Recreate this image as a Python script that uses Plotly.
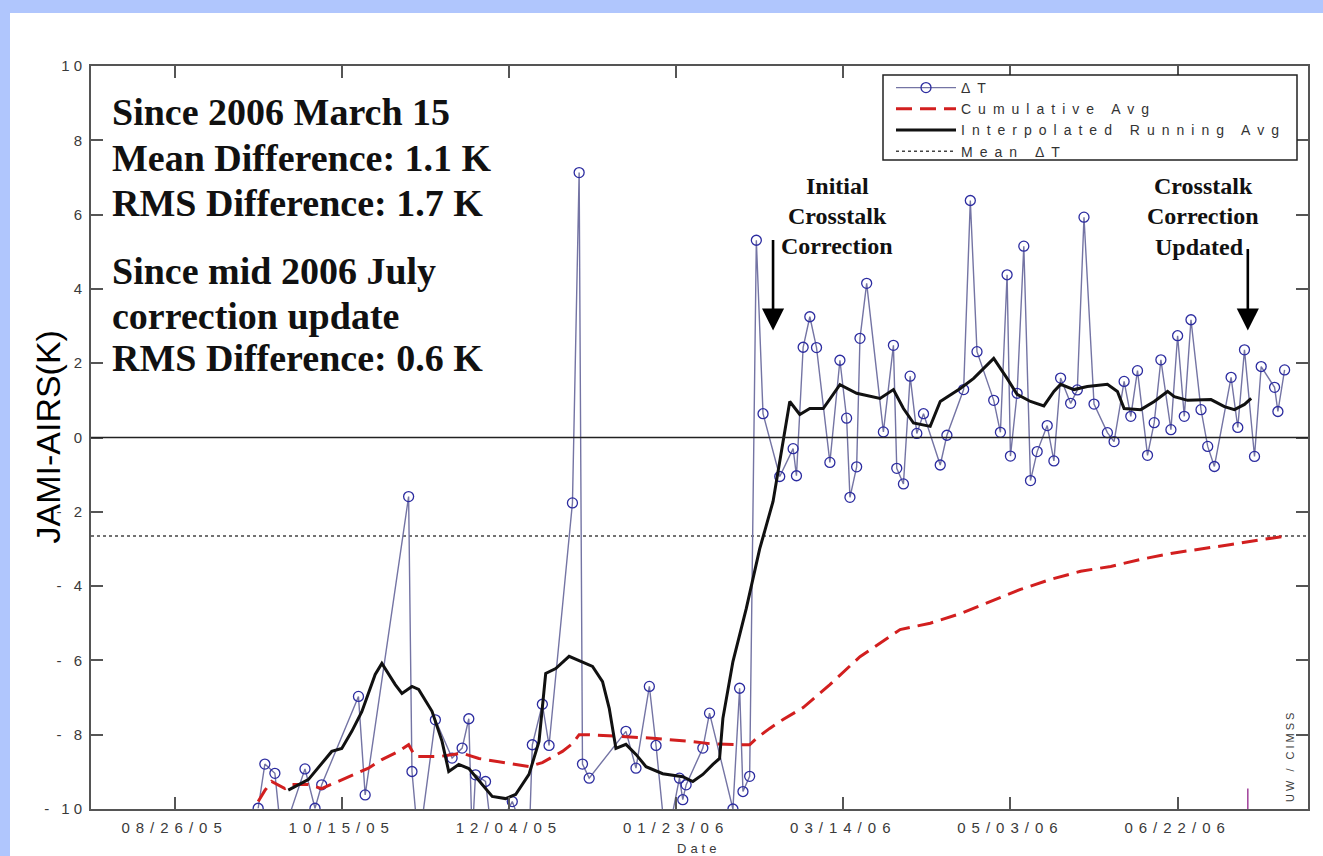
import plotly.graph_objects as go

# ---------------------------------------------------------------------------
# JAMI minus AIRS brightness-temperature differences (K)
# ---------------------------------------------------------------------------
DT_DATES = [
    "2005-09-20", "2005-09-22", "2005-09-25", "2005-09-27", "2005-10-04", "2005-10-07",
    "2005-10-09", "2005-10-20", "2005-10-22", "2005-11-04", "2005-11-05", "2005-11-07",
    "2005-11-12", "2005-11-17", "2005-11-20", "2005-11-22", "2005-11-23", "2005-11-24",
    "2005-11-27", "2005-11-29", "2005-12-05", "2005-12-10", "2005-12-11", "2005-12-14",
    "2005-12-16", "2005-12-23", "2005-12-25", "2005-12-26", "2005-12-28", "2006-01-08",
    "2006-01-11", "2006-01-15", "2006-01-17", "2006-01-20", "2006-01-24", "2006-01-25",
    "2006-01-26", "2006-01-31", "2006-02-02", "2006-02-09", "2006-02-11", "2006-02-12",
    "2006-02-14", "2006-02-16", "2006-02-18", "2006-02-23", "2006-02-27", "2006-02-28",
    "2006-03-02", "2006-03-04", "2006-03-06", "2006-03-10", "2006-03-13", "2006-03-15",
    "2006-03-16", "2006-03-18", "2006-03-19", "2006-03-21", "2006-03-26", "2006-03-29",
    "2006-03-30", "2006-04-01", "2006-04-03", "2006-04-05", "2006-04-07", "2006-04-12",
    "2006-04-14", "2006-04-19", "2006-04-21", "2006-04-23", "2006-04-28", "2006-04-30",
    "2006-05-02", "2006-05-03", "2006-05-05", "2006-05-07", "2006-05-09", "2006-05-11",
    "2006-05-14", "2006-05-16", "2006-05-18", "2006-05-21", "2006-05-23", "2006-05-25",
    "2006-05-28", "2006-06-01", "2006-06-03", "2006-06-06", "2006-06-08", "2006-06-10",
    "2006-06-13", "2006-06-15", "2006-06-17", "2006-06-20", "2006-06-22", "2006-06-24",
    "2006-06-26", "2006-06-29", "2006-07-01", "2006-07-03", "2006-07-08", "2006-07-10",
    "2006-07-12", "2006-07-15", "2006-07-17", "2006-07-21", "2006-07-22", "2006-07-24",
]
DT_VALUES = [
    -9.98, -8.79, -9.04, -10.8, -8.92, -9.98,
    -9.35, -6.97, -9.62, -1.59, -8.99, -11.0,
    -7.60, -8.63, -8.36, -7.57, -10.8, -9.08,
    -9.26, -10.8, -9.80, -11.0, -8.27, -7.18,
    -8.29, -1.76, 7.13, -8.79, -9.17, -7.91,
    -8.90, -6.70, -8.29, -11.0, -9.17, -9.75,
    -9.35, -8.36, -7.42, -10.0, -6.75, -9.53,
    -9.12, 5.31, 0.64, -1.05, -0.30, -1.03,
    2.43, 3.25, 2.42, -0.67, 2.08, 0.52,
    -1.61, -0.79, 2.67, 4.15, 0.15, 2.48,
    -0.83, -1.25, 1.65, 0.11, 0.64, -0.74,
    0.06, 1.29, 6.38, 2.31, 1.00, 0.14,
    4.38, -0.50, 1.19, 5.15, -1.16, -0.38,
    0.32, -0.63, 1.60, 0.92, 1.28, 5.93,
    0.90, 0.13, -0.11, 1.51, 0.57, 1.80,
    -0.48, 0.40, 2.09, 0.21, 2.74, 0.57,
    3.17, 0.75, -0.24, -0.78, 1.62, 0.27,
    2.36, -0.51, 1.91, 1.35, 0.70, 1.82,
]

# Interpolated running average (K)
RUN_DATES = [
    "2005-09-29", "2005-10-05", "2005-10-12", "2005-10-15", "2005-10-18", "2005-10-21",
    "2005-10-25", "2005-10-27", "2005-10-31", "2005-11-02", "2005-11-05", "2005-11-07",
    "2005-11-11", "2005-11-14", "2005-11-16", "2005-11-19", "2005-11-22", "2005-11-26",
    "2005-11-29", "2005-12-03", "2005-12-06", "2005-12-10", "2005-12-13", "2005-12-15",
    "2005-12-18", "2005-12-22", "2005-12-27", "2005-12-29", "2006-01-01", "2006-01-03",
    "2006-01-05", "2006-01-08", "2006-01-11", "2006-01-14", "2006-01-19", "2006-01-25",
    "2006-01-28", "2006-01-31", "2006-02-03", "2006-02-05", "2006-02-06", "2006-02-09",
    "2006-02-13", "2006-02-17", "2006-02-21", "2006-02-23", "2006-02-26", "2006-03-01",
    "2006-03-04", "2006-03-08", "2006-03-13", "2006-03-18", "2006-03-25", "2006-03-29",
    "2006-04-01", "2006-04-04", "2006-04-09", "2006-04-12", "2006-04-18", "2006-04-22",
    "2006-04-28", "2006-05-02", "2006-05-05", "2006-05-09", "2006-05-13", "2006-05-16",
    "2006-05-18", "2006-05-22", "2006-05-26", "2006-06-01", "2006-06-04", "2006-06-06",
    "2006-06-11", "2006-06-15", "2006-06-19", "2006-06-21", "2006-06-25", "2006-07-02",
    "2006-07-06", "2006-07-09", "2006-07-12", "2006-07-14",
]
RUN_VALUES = [
    -9.49, -9.21, -8.45, -8.37, -7.91, -7.38,
    -6.38, -6.08, -6.65, -6.89, -6.70, -6.78,
    -7.37, -8.18, -8.99, -8.80, -8.91, -9.34,
    -9.66, -9.72, -9.61, -9.07, -8.18, -6.35,
    -6.22, -5.89, -6.08, -6.16, -6.57, -7.29,
    -8.37, -8.26, -8.53, -8.86, -9.05, -9.13,
    -9.26, -9.07, -8.80, -8.64, -7.56, -6.03,
    -4.60, -3.00, -1.72, -0.65, 0.97, 0.62,
    0.78, 0.78, 1.42, 1.19, 1.05, 1.29,
    0.78, 0.39, 0.30, 0.97, 1.32, 1.59,
    2.13, 1.59, 1.16, 0.97, 0.85, 1.24,
    1.43, 1.29, 1.37, 1.43, 1.24, 0.78,
    0.75, 0.97, 1.24, 1.10, 1.00, 1.02,
    0.83, 0.75, 0.89, 1.05,
]

# Cumulative average (K)
CUM_DATES = [
    "2005-09-20", "2005-09-22", "2005-09-24", "2005-09-28", "2005-09-30", "2005-10-05",
    "2005-10-09", "2005-10-14", "2005-10-19", "2005-10-23", "2005-10-27", "2005-11-01",
    "2005-11-04", "2005-11-06", "2005-11-13", "2005-11-20", "2005-11-25", "2005-12-04",
    "2005-12-10", "2005-12-14", "2005-12-20", "2005-12-23", "2005-12-25", "2005-12-28",
    "2006-01-07", "2006-01-17", "2006-01-27", "2006-02-02", "2006-02-11", "2006-02-14",
    "2006-02-16", "2006-02-20", "2006-02-24", "2006-03-02", "2006-03-10", "2006-03-19",
    "2006-03-31", "2006-04-09", "2006-04-18", "2006-04-27", "2006-05-06", "2006-05-15",
    "2006-05-24", "2006-06-02", "2006-06-11", "2006-06-20", "2006-06-29", "2006-07-08",
    "2006-07-17", "2006-07-24",
]
CUM_VALUES = [
    -9.80, -9.50, -9.26, -9.45, -9.34, -9.34,
    -9.45, -9.26, -9.07, -8.90, -8.67, -8.45,
    -8.27, -8.59, -8.59, -8.50, -8.64, -8.77,
    -8.86, -8.75, -8.45, -8.24, -8.00, -8.00,
    -8.05, -8.10, -8.18, -8.24, -8.27, -8.27,
    -8.10, -7.83, -7.59, -7.27, -6.65, -5.90,
    -5.17, -5.00, -4.74, -4.41, -4.09, -3.82,
    -3.60, -3.47, -3.28, -3.12, -3.01, -2.88,
    -2.75, -2.66,
]

MEAN_DT = -2.65

X_RANGE = ["2005-08-01", "2006-07-31"]
X_TICK_DATES = ["2005-08-26", "2005-10-15", "2005-12-04", "2006-01-23",
                "2006-03-14", "2006-05-03", "2006-06-22"]
X_TICK_TEXT = ["08/26/05", "10/15/05", "12/04/05", "01/23/06",
               "03/14/06", "05/03/06", "06/22/06"]
Y_TICKS = [-10, -8, -6, -4, -2, 0, 2, 4, 6, 8, 10]

INITIAL_CORRECTION = "2006-02-21"
UPDATED_CORRECTION = "2006-07-13"

SUMMARY_LINES = [
    "Since 2006 March 15",
    "Mean Difference: 1.1 K",
    "RMS Difference: 1.7 K",
    "Since mid 2006 July",
    "correction update",
    "RMS Difference: 0.6 K",
]

# ---------------------------------------------------------------------------
# Page geometry (pixels)
# ---------------------------------------------------------------------------
W, H = 1323, 856
PL, PR, PT, PB = 91, 1308, 66, 809


def px_x(px):
    return (px - PL) / (PR - PL)


def px_y(py):
    return (PB - py) / (PB - PT)


def spaced(text, gap):
    return f'<span style="letter-spacing:{gap}px">{text}</span>'


AXIS_COLOR = "#555555"
TICK_FONT = dict(family="Liberation Sans", size=15, color="#3a3a3a")
LEGEND_GAP = 7

fig = go.Figure()

fig.add_trace(go.Scatter(
    x=X_RANGE, y=[MEAN_DT, MEAN_DT], mode="lines",
    name=spaced("Mean ΔT", LEGEND_GAP), legendrank=4,
    line=dict(color="#444444", width=1.6, dash="dot"),
))
fig.add_trace(go.Scatter(
    x=DT_DATES, y=DT_VALUES, mode="lines+markers",
    name=spaced("ΔT", LEGEND_GAP), legendrank=1,
    line=dict(color="#7474a4", width=1.4),
    marker=dict(symbol="circle-open", size=10,
                line=dict(color="#2c2ca0", width=1.3), color="#2c2ca0"),
))
fig.add_trace(go.Scatter(
    x=CUM_DATES, y=CUM_VALUES, mode="lines",
    name=spaced("Cumulative Avg", LEGEND_GAP), legendrank=2,
    line=dict(color="#d21f1f", width=3, dash="16px,8px"),
))
fig.add_trace(go.Scatter(
    x=RUN_DATES, y=RUN_VALUES, mode="lines",
    name=spaced("Interpolated Running Avg", LEGEND_GAP), legendrank=3,
    line=dict(color="#111111", width=3),
))

# zero reference line
fig.add_shape(type="line", xref="paper", x0=0, x1=1, yref="y", y0=0, y1=0,
              line=dict(color="#222222", width=1.5))

# small marker at the bottom for the update date
fig.add_shape(type="line", xref="x", x0=UPDATED_CORRECTION, x1=UPDATED_CORRECTION,
              yref="y", y0=-10, y1=-9.45, line=dict(color="#a0409a", width=1.5))

# legend frame (white box under the legend entries)
fig.add_shape(type="rect", xref="paper", yref="paper",
              x0=px_x(883), x1=px_x(1297), y0=px_y(160), y1=px_y(75),
              line=dict(color="#222222", width=1.5), fillcolor="white", layer="above")

# light-blue page border strips
fig.add_shape(type="rect", xref="paper", yref="paper",
              x0=px_x(0), x1=px_x(10), y0=px_y(H), y1=px_y(0),
              line=dict(width=0), fillcolor="#b0c6fd", layer="below")
fig.add_shape(type="rect", xref="paper", yref="paper",
              x0=px_x(0), x1=px_x(W), y0=px_y(13), y1=px_y(0),
              line=dict(width=0), fillcolor="#b0c6fd", layer="below")

# summary text block
SERIF = "Liberation Serif"
for text, py in zip(SUMMARY_LINES, [112, 158, 203, 271, 316, 358]):
    fig.add_annotation(text=f"<b>{text}</b>", xref="paper", yref="paper",
                       x=px_x(110), y=px_y(py), xanchor="left", yanchor="middle",
                       showarrow=False, font=dict(family=SERIF, size=38, color="#111111"))

for text, px, py in [("Initial", 837, 186), ("Crosstalk", 837, 216), ("Correction", 837, 246),
                     ("Crosstalk", 1203, 186), ("Correction", 1203, 216), ("Updated", 1199, 247)]:
    fig.add_annotation(text=f"<b>{text}</b>", xref="paper", yref="paper",
                       x=px_x(px), y=px_y(py), xanchor="center", yanchor="middle",
                       showarrow=False, font=dict(family=SERIF, size=24, color="#111111"))

# correction arrows
for date, tail in [(INITIAL_CORRECTION, -92), (UPDATED_CORRECTION, -83)]:
    fig.add_annotation(x=date, y=2.88, xref="x", yref="y", text="",
                       showarrow=True, arrowhead=2, arrowsize=1.7, arrowwidth=2.6,
                       arrowcolor="#000000", ax=0, ay=tail)

# axis titles and credit
fig.add_annotation(text="JAMI-AIRS(K)", xref="paper", yref="paper",
                   x=px_x(47), y=0.5, textangle=-90, showarrow=False,
                   xanchor="center", yanchor="middle",
                   font=dict(family="Liberation Sans", size=34, color="#000000"))
fig.add_annotation(text=spaced("Date", 4), xref="paper", yref="paper",
                   x=px_x(698), y=px_y(848), showarrow=False,
                   xanchor="center", yanchor="middle",
                   font=dict(family="Liberation Sans", size=13, color="#3a3a3a"))
fig.add_annotation(text=spaced("UW / CIMSS", 3), xref="paper", yref="paper",
                   x=px_x(1290), y=px_y(756), textangle=-90, showarrow=False,
                   xanchor="center", yanchor="middle",
                   font=dict(family="Liberation Sans", size=11, color="#3a3a3a"))

axis_common = dict(
    showline=True, linecolor=AXIS_COLOR, linewidth=2, mirror="ticks",
    ticks="inside", ticklen=12, tickwidth=1.5, tickcolor=AXIS_COLOR,
    showgrid=False, zeroline=False, tickfont=TICK_FONT,
)

fig.update_xaxes(type="date", range=X_RANGE, tickmode="array",
                 tickvals=X_TICK_DATES, ticktext=[spaced(t, 6) for t in X_TICK_TEXT],
                 ticklabelstandoff=4, **axis_common)
fig.update_yaxes(range=[-10, 10], tickmode="array", tickvals=Y_TICKS,
                 ticktext=[spaced(str(v).replace("-", "- "), 4) for v in Y_TICKS],
                 **axis_common)

fig.update_layout(
    width=W, height=H,
    margin=dict(l=PL, r=W - PR, t=PT, b=H - PB),
    paper_bgcolor="white", plot_bgcolor="white",
    showlegend=True,
    legend=dict(x=px_x(891), y=px_y(72), xanchor="left", yanchor="top",
                bgcolor="rgba(0,0,0,0)", borderwidth=0,
                font=dict(family="Liberation Sans", size=14, color="#333333"),
                itemwidth=60, tracegroupgap=0),
)

fig.write_html("out.html")
